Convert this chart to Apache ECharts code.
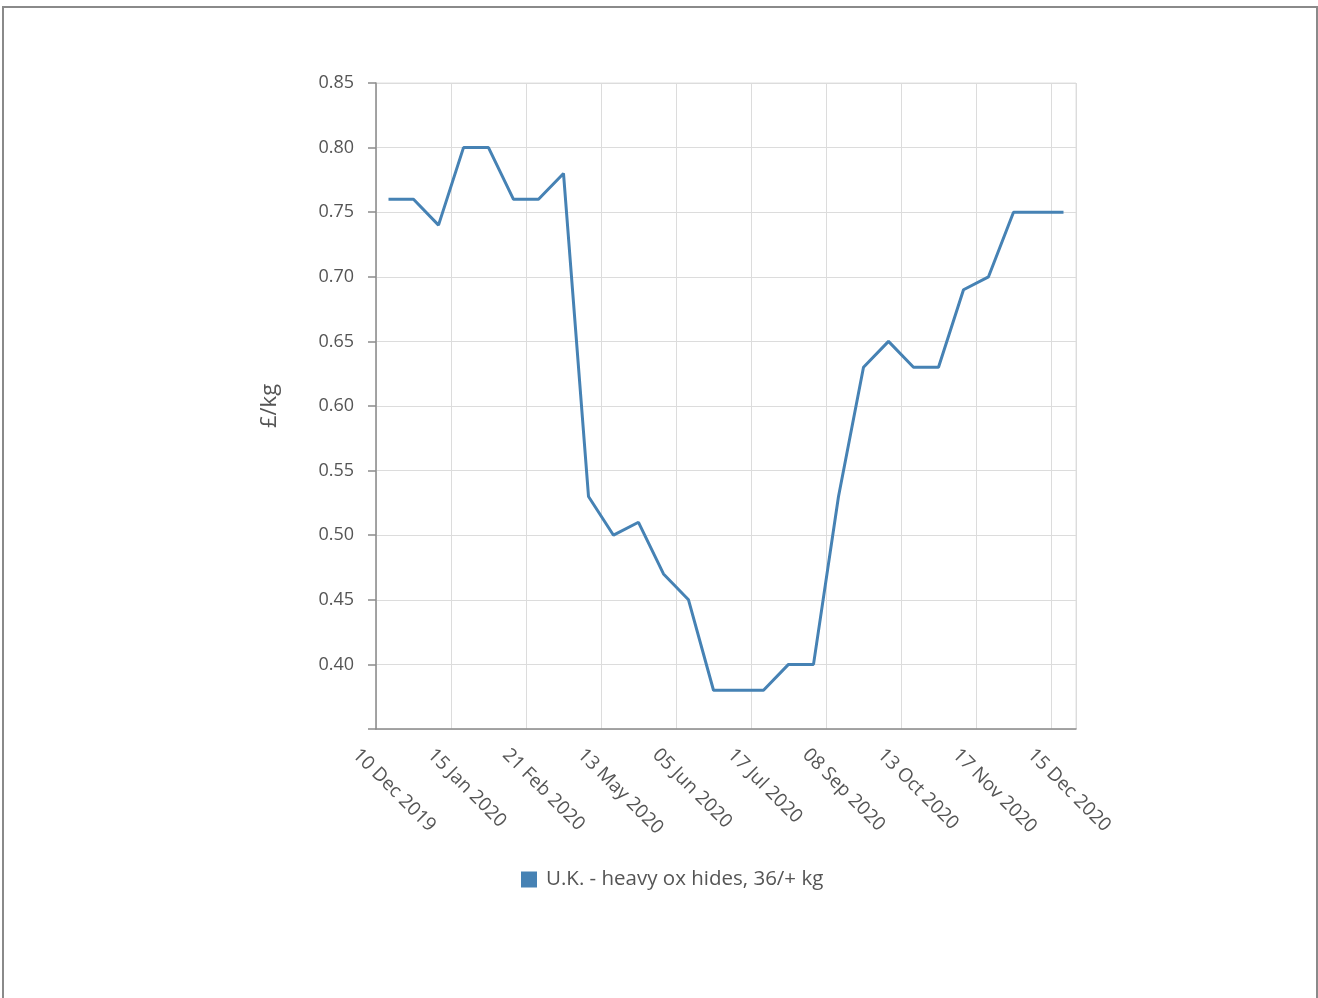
<!DOCTYPE html>
<html>
<head>
<meta charset="utf-8">
<script src="https://cdn.jsdelivr.net/npm/echarts@6/dist/echarts.min.js"></script>
<style>
  html, body { margin: 0; padding: 0; background: #fff; }
  #frame { position: absolute; left: 2px; top: 6px; width: 1312px; height: 1000px; border: 2px solid #8a8a8a; border-bottom: none; }
  #chart { position: absolute; left: 0; top: 0; width: 1318px; height: 998px; }
</style>
</head>
<body>
<div id="frame"></div>
<div id="chart"></div>
<script>
// Category slots (only every third date is labelled on the axis)
const categories = [
  '10 Dec 2019', '', '', '15 Jan 2020', '', '', '21 Feb 2020', '', '', '13 May 2020',
  '', '', '05 Jun 2020', '', '', '17 Jul 2020', '', '', '08 Sep 2020', '',
  '', '13 Oct 2020', '', '', '17 Nov 2020', '', '', '15 Dec 2020'
];
const seriesName = 'U.K. - heavy ox hides, 36/+ kg';
const values = [
  0.76, 0.76, 0.74, 0.80, 0.80, 0.76, 0.76, 0.78, 0.53, 0.50,
  0.51, 0.47, 0.45, 0.38, 0.38, 0.38, 0.40, 0.40, 0.53, 0.63,
  0.65, 0.63, 0.63, 0.69, 0.70, 0.75, 0.75, 0.75
];
const yName = '£/kg';

const chart = echarts.init(document.getElementById('chart'), null, { renderer: 'canvas' });
const font = '"Open Sans", "Noto Sans", sans-serif';
chart.setOption({
  animation: false,
  textStyle: { fontFamily: font },
  grid: { left: 376, top: 83, width: 700, height: 646, show: true, borderColor: '#e0e0e0', borderWidth: 1 },
  legend: {
    top: 864, left: 516,
    icon: 'rect', itemWidth: 16, itemHeight: 16, itemGap: 9,
    textStyle: { fontSize: 20.5, color: '#555', fontFamily: font, padding: [0, 0, 0, 4] },
    data: [seriesName]
  },
  xAxis: {
    type: 'category', data: categories, boundaryGap: true,
    axisLine: { lineStyle: { color: '#8c8c8c', width: 1.5 } },
    axisTick: { interval: 2, length: 8, lineStyle: { color: '#8c8c8c', width: 1.5 } },
    splitLine: { show: true, interval: 2, lineStyle: { color: '#dcdcdc', width: 1 } },
    axisLabel: {
      interval: 2, rotate: -45, margin: -10, color: '#555', fontSize: 19, fontFamily: font,
      verticalAlign: 'top', padding: [37, 0, 0, 0]
    }
  },
  yAxis: {
    type: 'value', min: 0.35, max: 0.85, interval: 0.05,
    name: yName, nameLocation: 'middle', nameGap: 95, nameRotate: 90,
    nameTextStyle: { fontSize: 22, color: '#555', fontFamily: font },
    axisLine: { show: true, lineStyle: { color: '#8c8c8c', width: 1.5 } },
    axisTick: { show: true, length: 8, lineStyle: { color: '#8c8c8c', width: 1.5 } },
    splitLine: { show: true, lineStyle: { color: '#dcdcdc', width: 1 } },
    axisLabel: {
      margin: 22, color: '#555', fontSize: 18, fontFamily: font,
      formatter: v => (Math.abs(v - 0.35) < 1e-9 ? '' : v.toFixed(2))
    }
  },
  series: [{
    name: seriesName, type: 'line', data: values,
    showSymbol: false, symbol: 'none',
    lineStyle: { color: '#4682b4', width: 3 },
    itemStyle: { color: '#4682b4' }
  }]
});
</script>
</body>
</html>
